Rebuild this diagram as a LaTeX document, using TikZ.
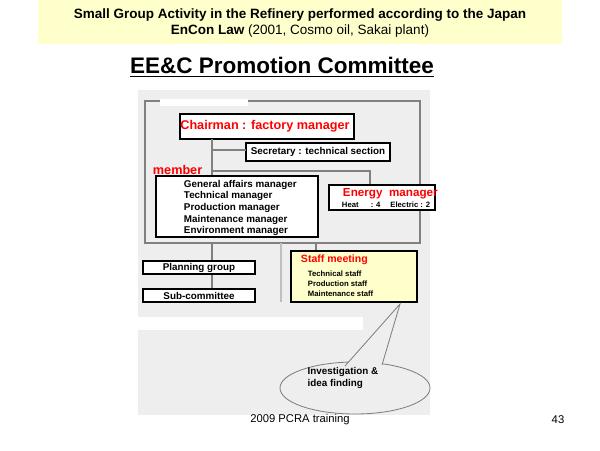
\documentclass[tikz,border=0pt]{standalone}
\usepackage{fontspec}
\setmainfont{Liberation Sans}
\usetikzlibrary{positioning}
\definecolor{titlebg}{HTML}{FFFFCC}
\definecolor{panel}{HTML}{EEEEEE}
\definecolor{redtxt}{HTML}{FF0000}
\tikzset{box/.style = {draw=black, line width=0.8pt, fill=white, inner sep=0pt},
         lbl/.style = {font=\bfseries\fontsize{7}{8}\selectfont, align=left},
         link/.style = {draw=gray, line width=0.8pt}}
\begin{document}
\begin{tikzpicture}[x=0.025cm, y=-0.025cm]
        \useasboundingbox (0,0) rectangle (600,450);
        \fill[white] (0,0) rectangle (600,450);
        \fill[titlebg] (38,0) rectangle (562,44);
        \node [font=\bfseries\fontsize{9.6}{11.5}\selectfont, align=center] (title) at (300,23)
            {Small Group Activity in the Refinery performed according to the Japan\\
             EnCon Law {\mdseries(2001, Cosmo oil, Sakai plant)}};
        \node [font=\bfseries\fontsize{16}{18}\selectfont] (head) at (282,67) {\underline{EE\&C Promotion Committee}};

        \fill[panel] (138,90) rectangle (430,415);
        \draw[link] (145,101) rectangle (420,243);
        \fill[white] (160,99) rectangle (248,106);
        \fill[white] (138,317) rectangle (363,330);

        % upper part
        \draw [box] (180,114) rectangle (354,139);
        \node [lbl, text=redtxt, font=\bfseries\fontsize{9}{10}\selectfont] (chair) at (265,126) {Chairman : factory manager};
        \draw [box] (246,143) rectangle (390,161);
        \node [lbl] (sec) at (318,152) {Secretary : technical section};
        \draw [link] (212,139) -- (212,176);
        \draw [link] (212,150) -- (246,150);
        \draw [link] (212,171) -- (370,171) -- (370,185);
        \node [lbl, text=redtxt, font=\bfseries\fontsize{9}{10}\selectfont, anchor=west] (mem) at (148,170) {member};
        \draw [box] (156,176) rectangle (318,237);
        \node [lbl, anchor=north west, font=\bfseries\fontsize{7}{8.3}\selectfont] (members) at (179,175)
            {General affairs manager\\Technical manager\\Production manager\\Maintenance manager\\Environment manager};
        \draw [box] (329,185) rectangle (435,210);
        \node [lbl, text=redtxt, font=\bfseries\fontsize{8.3}{9}\selectfont, anchor=west] (energy) at (338,194) {Energy\ \ manager};
        \node [lbl, font=\bfseries\fontsize{5.5}{6}\selectfont, anchor=west] (heat) at (337,205) {Heat\quad\ \ : 4\quad\ Electric : 2};

        % lower part
        \draw [link] (212,243) -- (212,289);
        \draw [box] (143,261) rectangle (255,274);
        \node [lbl] (plan) at (199,267.5) {Planning group};
        \draw [box] (143,289) rectangle (255,302);
        \node [lbl] (sub) at (199,295.5) {Sub-committee};
        \draw [link, draw=lightgray] (281,243) -- (281,302);
        \draw [link] (316,243) -- (316,251);
        \draw [box, fill=titlebg] (291,251) rectangle (417,302);
        \node [lbl, text=redtxt, font=\bfseries\fontsize{7.5}{8}\selectfont, anchor=west] (staff) at (296,260) {Staff meeting};
        \node [lbl, anchor=north west, font=\bfseries\fontsize{5.5}{7.2}\selectfont] (staffs) at (303,266)
            {Technical staff\\Production staff\\Maintenance staff};

        % callout
        \draw [gray, fill=panel, line width=0.6pt] (355,388) ellipse [x radius=75, y radius=26];
        \fill[panel] (345,366) -- (400,304) -- (382,365) -- cycle;
        \draw [gray, line width=0.6pt] (345,366) -- (400,304) -- (382,365);
        \node [lbl, font=\bfseries\fontsize{7}{9}\selectfont] (idea) at (343,378) {Investigation \&\\idea finding};

        \node [font=\fontsize{8}{9}\selectfont] (foot) at (300,420) {2009 PCRA training};
        \node [font=\fontsize{8}{9}\selectfont] (page) at (558,420) {43};
    \end{tikzpicture}
\end{document}
